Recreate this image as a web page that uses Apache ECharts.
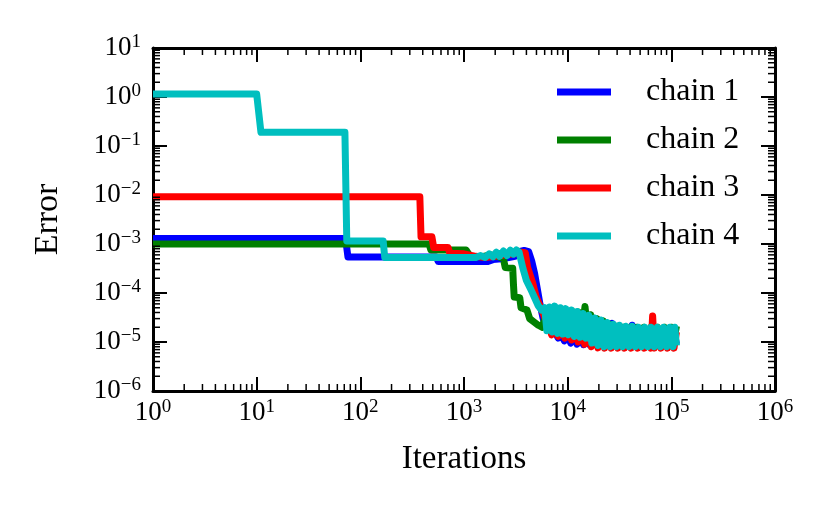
<!DOCTYPE html>
<html>
<head>
<meta charset="utf-8">
<script src="https://cdn.jsdelivr.net/npm/echarts@6/dist/echarts.min.js"></script>
<style>
html, body { margin: 0; padding: 0; background: #fff; }
#chart { width: 831px; height: 514px; }
</style>
</head>
<body>
<div id="chart"></div>
<script>
// error history of four chains, [iteration, error]
var chain1 = [
    [1, 1.3e-3], [72, 1.3e-3], [76, 5.4e-4], [540, 5.4e-4], [565, 4.4e-4], [1700, 4.4e-4],
    [1900, 4.8e-4], [2300, 5e-4], [2700, 5.3e-4], [3100, 5.6e-4], [3400, 7e-4], [3800, 7.4e-4],
    [4200, 7e-4], [4500, 4.5e-4], [4800, 2.5e-4], [5100, 1.2e-4], [5400, 6e-5], [5800, 3e-5],
    [6200, 2.2e-5], [6700, 1.7e-5], [7100, 1.5e-5], [7600, 1.6e-5], [8100, 1.2e-5], [8700, 1.4e-5],
    [9300, 1.05e-5], [10000, 1.4e-5], [10700, 9.5e-6], [11500, 1.4e-5], [12300, 9e-6], [13200, 1.3e-5],
    [14200, 8.8e-6], [15200, 1.3e-5], [16300, 8.8e-6], [17500, 1.5e-5], [18800, 8.8e-6], [20200, 1.6e-5],
    [21700, 8.8e-6], [23300, 1.7e-5], [25000, 8.8e-6], [27000, 2.4e-5], [28500, 8.8e-6], [30500, 1.8e-5],
    [33000, 8.8e-6], [35500, 1.8e-5], [38500, 8.8e-6], [42000, 2.2e-5], [44500, 8.8e-6], [48000, 1.8e-5],
    [52000, 8.8e-6], [56000, 1.8e-5], [61000, 8.8e-6], [66000, 1.8e-5], [71000, 8.8e-6], [77000, 1.8e-5],
    [83000, 8.8e-6], [90000, 1.8e-5], [97000, 8.8e-6], [105000, 1.8e-5], [112000, 9e-6]
];
var chain2 = [
    [1, 1e-3], [460, 1e-3], [480, 7.5e-4], [1050, 7.5e-4], [1150, 5.6e-4], [1500, 5.5e-4],
    [1800, 6e-4], [2100, 5.6e-4], [2400, 5e-4], [2500, 3.3e-4], [2950, 3.2e-4], [3000, 1.5e-4],
    [3050, 8.3e-5], [3450, 8e-5], [3550, 5e-5], [4050, 4.5e-5], [4300, 3e-5], [4700, 2.6e-5],
    [5200, 2.2e-5], [5700, 2e-5], [6200, 4e-5], [6600, 2e-5], [7100, 4.4e-5], [7600, 2e-5],
    [8200, 4.4e-5], [8800, 1.9e-5], [9500, 4.4e-5], [10200, 1.8e-5], [11000, 4.3e-5], [11800, 1.7e-5],
    [12700, 4.1e-5], [13700, 1.6e-5], [14700, 5.3e-5], [15600, 1.5e-5], [16700, 3.6e-5], [17900, 1.4e-5],
    [19200, 3e-5], [20600, 1.3e-5], [22100, 2.7e-5], [23700, 1.2e-5], [25500, 2.3e-5], [27400, 1.1e-5],
    [29500, 2.1e-5], [31800, 1.1e-5], [34300, 2e-5], [37000, 1.1e-5], [40000, 2e-5], [43200, 1.1e-5],
    [46600, 2e-5], [50300, 1.1e-5], [54300, 2e-5], [58600, 1.1e-5], [63300, 2e-5], [68300, 1.1e-5],
    [73700, 2e-5], [79600, 1.1e-5], [85900, 2e-5], [92700, 1.1e-5], [100000, 2e-5], [106000, 1.1e-5],
    [112000, 2.1e-5]
];
var chain3 = [
    [1, 9.2e-3], [375, 9.2e-3], [385, 1.4e-3], [490, 1.4e-3], [510, 8.5e-4], [700, 8.5e-4],
    [730, 6.5e-4], [1000, 6.3e-4], [1300, 5.6e-4], [1600, 5.3e-4], [2000, 5.6e-4], [2500, 6e-4],
    [3000, 6.3e-4], [3500, 6.8e-4], [3900, 6.6e-4], [4100, 3.4e-4], [4600, 1.6e-4], [5000, 8e-5],
    [5500, 5e-5], [6000, 3.2e-5], [6500, 2.5e-5], [7000, 1.4e-5], [7500, 2.4e-5], [8100, 1.3e-5],
    [8700, 2.3e-5], [9400, 1.2e-5], [10100, 2.2e-5], [10900, 1.1e-5], [11700, 2.1e-5], [12600, 1e-5],
    [13600, 2e-5], [14600, 9e-6], [15700, 2e-5], [16900, 8e-6], [18200, 1.9e-5], [19600, 7.6e-6],
    [21100, 1.8e-5], [22700, 7.5e-6], [24400, 1.8e-5], [26300, 7.5e-6], [28300, 1.8e-5], [30500, 7.5e-6],
    [32800, 1.8e-5], [35300, 7.5e-6], [38000, 1.8e-5], [40900, 7.5e-6], [44000, 1.8e-5], [47400, 7.5e-6],
    [51000, 1.8e-5], [54900, 7.5e-6], [59100, 1.8e-5], [63600, 7.5e-6], [66000, 3.4e-5], [68500, 7.5e-6],
    [73700, 1.8e-5], [79300, 7.5e-6], [85400, 1.8e-5], [91900, 7.5e-6], [98900, 1.8e-5], [106000, 7.5e-6],
    [112000, 1.6e-5]
];
var chain4 = [
    [1, 1.15], [10, 1.15], [11, 0.19], [71, 0.19], [74, 1.15e-3], [166, 1.15e-3], [172, 5.3e-4],
    [1300, 5.3e-4], [1450, 5.8e-4], [1600, 5.3e-4], [1750, 6.3e-4], [1900, 5.5e-4], [2050, 6.8e-4],
    [2200, 5.6e-4], [2400, 7.2e-4], [2600, 5.8e-4], [2800, 7.5e-4], [3000, 6.2e-4], [3200, 7.6e-4],
    [3400, 6.8e-4], [3550, 7.2e-4], [3700, 3.2e-4], [4000, 1.8e-4], [4400, 1.2e-4], [4800, 8e-5],
    [5200, 5.5e-5], [5600, 4.5e-5], [6000, 5e-5], [6300, 1.7e-5], [6700, 5.2e-5], [7100, 1.6e-5],
    [7500, 5.4e-5], [8000, 1.5e-5], [8500, 5e-5], [9000, 1.45e-5], [9600, 4.8e-5], [10200, 1.4e-5],
    [10900, 4.5e-5], [11600, 1.3e-5], [12400, 4.2e-5], [13200, 1.25e-5], [14100, 3.8e-5], [15000, 1.2e-5],
    [16000, 3.5e-5], [17100, 9.5e-6], [18300, 3.1e-5], [19600, 8.5e-6], [21000, 2.8e-5], [22500, 8e-6],
    [24100, 2.5e-5], [25800, 8e-6], [27600, 2.3e-5], [29600, 8e-6], [31700, 2.2e-5], [34000, 8e-6],
    [36500, 2.1e-5], [39200, 8e-6], [42000, 2.1e-5], [45000, 8e-6], [48300, 2e-5], [51800, 8e-6],
    [55500, 2e-5], [59500, 8e-6], [63800, 2e-5], [68400, 8e-6], [73300, 2e-5], [78600, 8e-6],
    [84300, 2e-5], [90400, 8e-6], [96900, 2e-5], [103900, 8e-6], [108000, 2e-5], [112000, 8.5e-6]
];

var chainNames = ['chain 1', 'chain 2', 'chain 3', 'chain 4'];
var chainColors = ['#0000ff', '#008000', '#ff0000', '#00bfbf'];

var xRange = [1, 1e6];
var yRange = [1e-6, 10];
var minorMantissas = [2, 3, 4, 5, 6, 7, 8, 9];
var xDecades = [1, 10, 100, 1000, 10000, 100000];
var yDecades = [1e-6, 1e-5, 1e-4, 1e-3, 1e-2, 1e-1, 1];

var font = "'Liberation Serif', 'DejaVu Serif', serif";

function minorTicks(decades) {
    var out = [];
    decades.forEach(function (d) {
        minorMantissas.forEach(function (m) { out.push(m * d); });
    });
    return out;
}

var xMinor = minorTicks(xDecades);
var yMinor = minorTicks(yDecades);

function powLabel(value) {
    var e = Math.round(Math.log(value) / Math.LN10);
    return '{b|10}{s|' + String(e).replace('-', '\u2212') + '}';
}

var labelRich = {
    b: { fontFamily: font, fontSize: 27, color: '#000', lineHeight: 30 },
    s: { fontFamily: font, fontSize: 19, color: '#000', lineHeight: 18, verticalAlign: 'top' }
};

function logAxis(range, position, showLabel, margin, extra) {
    var axis = {
        type: 'log',
        logBase: 10,
        min: range[0],
        max: range[1],
        position: position,
        axisLine: { show: true, onZero: false, lineStyle: { color: '#000', width: 3 } },
        axisTick: { show: true, inside: true, length: 14, lineStyle: { color: '#000', width: 2 } },
        axisLabel: {
            show: showLabel, formatter: powLabel, rich: labelRich, margin: margin,
            fontFamily: font, fontSize: 27, color: '#000'
        },
        splitLine: { show: false }
    };
    return Object.assign(axis, extra || {});
}

var chart = echarts.init(document.getElementById('chart'));

var lineSeries = [chain1, chain2, chain3, chain4].map(function (data, i) {
    return {
        name: chainNames[i],
        type: 'line',
        data: data,
        showSymbol: false,
        symbol: 'none',
        color: chainColors[i],
        lineStyle: { width: 7, color: chainColors[i], join: 'round' },
        animation: false
    };
});

var tickStyle = { stroke: '#000', lineWidth: 1.5 };

var xMinorSeries = {
    type: 'custom',
    silent: true,
    data: xMinor.map(function (v) { return [v, yRange[0]]; }),
    renderItem: function (params, api) {
        var v = api.value(0);
        var b = api.coord([v, yRange[0]]);
        var t = api.coord([v, yRange[1]]);
        return {
            type: 'group',
            children: [
                { type: 'line', shape: { x1: b[0], y1: b[1], x2: b[0], y2: b[1] - 7 }, style: tickStyle },
                { type: 'line', shape: { x1: t[0], y1: t[1], x2: t[0], y2: t[1] + 7 }, style: tickStyle }
            ]
        };
    },
    z: 5,
    animation: false
};

var yMinorSeries = {
    type: 'custom',
    silent: true,
    data: yMinor.map(function (v) { return [xRange[0], v]; }),
    renderItem: function (params, api) {
        var v = api.value(1);
        var l = api.coord([xRange[0], v]);
        var r = api.coord([xRange[1], v]);
        return {
            type: 'group',
            children: [
                { type: 'line', shape: { x1: l[0], y1: l[1], x2: l[0] + 7, y2: l[1] }, style: tickStyle },
                { type: 'line', shape: { x1: r[0], y1: r[1], x2: r[0] - 7, y2: r[1] }, style: tickStyle }
            ]
        };
    },
    z: 5,
    animation: false
};

chart.setOption({
    animation: false,
    backgroundColor: '#fff',
    grid: { left: 153, right: 56, top: 48, bottom: 123, containLabel: false },
    legend: {
        data: chainNames,
        orient: 'vertical',
        left: 557,
        top: 76,
        padding: 0,
        itemWidth: 54,
        itemHeight: 7,
        itemGap: 16,
        icon: 'rect',
        textStyle: { fontFamily: font, fontSize: 32, color: '#000', lineHeight: 32, padding: [0, 0, 0, 30] }
    },
    xAxis: [
        logAxis(xRange, 'bottom', true, 7, {
            splitNumber: 6,
            name: 'Iterations',
            nameLocation: 'middle',
            nameGap: 52,
            nameTextStyle: { fontFamily: font, fontSize: 33, color: '#000' }
        }),
        logAxis(xRange, 'top', false, 7, { splitNumber: 6 })
    ],
    yAxis: [
        logAxis(yRange, 'left', true, 12, {
            splitNumber: 7,
            name: 'Error',
            nameLocation: 'middle',
            nameGap: 88,
            nameTextStyle: { fontFamily: font, fontSize: 34, color: '#000' }
        }),
        logAxis(yRange, 'right', false, 12, { splitNumber: 7 })
    ],
    series: lineSeries.concat([xMinorSeries, yMinorSeries])
});
</script>
</body>
</html>
